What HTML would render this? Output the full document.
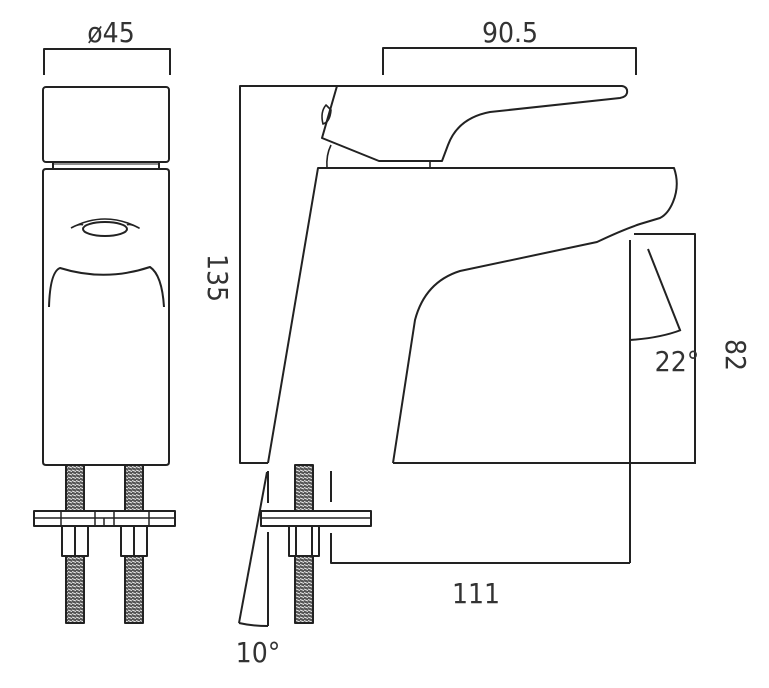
<!DOCTYPE html>
<html><head><style>
html,body{margin:0;padding:0;background:#fff;}
svg{display:block;}
text{font-family:"DejaVu Sans Condensed","Liberation Sans",sans-serif;fill:#333;font-weight:300;}
</style></head><body>
<svg width="769" height="688" viewBox="0 0 769 688" xmlns="http://www.w3.org/2000/svg">
<defs>
<pattern id="thr" width="4" height="3.5" patternUnits="userSpaceOnUse">
<rect width="4" height="3.5" fill="#555"/>
<line x1="0" y1="1" x2="4" y2="2.5" stroke="#eee" stroke-width="1"/>
</pattern>
</defs>
<g fill="none" stroke="#222" stroke-width="2" stroke-linejoin="round">
<!-- left view -->
<polyline points="44,75 44,49 170,49 170,75"/>
<rect x="43" y="87" width="126" height="75" rx="3"/>
<line x1="53" y1="162" x2="53" y2="169"/><line x1="159" y1="162" x2="159" y2="169"/>
<line x1="53" y1="164" x2="159" y2="164" stroke-width="1"/>
<path d="M43,172 Q43,169 46,169 L166,169 Q169,169 169,172 L169,462 Q169,465 166,465 L46,465 Q43,465 43,462 Z"/>
<ellipse cx="105" cy="229" rx="22" ry="7"/>
<path d="M71,228 Q105,210 139,228 Q130,223 127,225 M71,228 Q80,223 83,225" stroke-width="1.6"/>
<path d="M49,307 Q50,272 60,268 Q105,282 150,267 Q162,275 164,307"/>
<!-- left rods -->
<rect x="66" y="465" width="18" height="46" fill="url(#thr)"/>
<rect x="125" y="465" width="18" height="46" fill="url(#thr)"/>
<rect x="66" y="556" width="18" height="67" fill="url(#thr)"/>
<rect x="125" y="556" width="18" height="67" fill="url(#thr)"/>
<rect x="34" y="511" width="141" height="15" fill="#fff"/>
<line x1="34" y1="518" x2="175" y2="518" stroke-width="1.5"/>
<line x1="61" y1="511" x2="61" y2="526" stroke-width="1.5"/><line x1="149" y1="511" x2="149" y2="526" stroke-width="1.5"/>
<line x1="95" y1="511" x2="95" y2="526" stroke-width="1.5"/><line x1="104" y1="518" x2="104" y2="526" stroke-width="1.5"/><line x1="114" y1="511" x2="114" y2="526" stroke-width="1.5"/>
<rect x="62" y="526" width="26" height="30" fill="#fff"/><line x1="75" y1="526" x2="75" y2="556"/>
<rect x="121" y="526" width="26" height="30" fill="#fff"/><line x1="134" y1="526" x2="134" y2="556"/>
<!-- side view -->
<polyline points="383,75 383,48 636,48 636,75"/>
<polyline points="337,86 240,86 240,463 268,463"/>
<line x1="393" y1="463" x2="696" y2="463"/>
<path d="M337,86 L622,86 Q628,87 627,93 Q626,97 620,98 L490,112 Q458,118 448,145 L442,161 L379,161 L322,138 L337,86"/>
<path d="M326,105 Q320,112 323,124 Q330,122 331,110 Z" stroke-width="1.6"/>
<path d="M331,145 Q326,155 327,168" stroke-width="1.6"/>
<line x1="430" y1="161" x2="430" y2="168" stroke-width="1.6"/>
<path d="M268,463 L318,168 L674,168 Q680,185 673,202 Q668,214 660,218 L640,224 Q622,230 597,242 L460,271 Q425,282 415,320 L393,463"/>
<!-- 82 dim -->
<polyline points="634,234 695,234 695,463"/>
<line x1="630" y1="240" x2="630" y2="563"/>
<line x1="648" y1="249" x2="680" y2="330"/>
<path d="M630,340 Q660,338 681,330"/>
<!-- 111 dim -->
<line x1="331" y1="471" x2="331" y2="502"/>
<polyline points="331,533 331,563 630,563"/>
<!-- 10 deg -->
<line x1="268" y1="471" x2="268" y2="503"/>
<line x1="268" y1="532" x2="268" y2="626"/>
<line x1="267" y1="472" x2="239" y2="623"/>
<path d="M239,623 Q252,626 268,626"/>
<!-- side rod -->
<rect x="295" y="465" width="18" height="46" fill="url(#thr)"/>
<rect x="295" y="556" width="18" height="67" fill="url(#thr)"/>
<rect x="261" y="511" width="110" height="15" fill="#fff"/>
<line x1="261" y1="518" x2="371" y2="518" stroke-width="1.5"/>
<rect x="289" y="526" width="30" height="30" fill="#fff"/><line x1="296" y1="526" x2="296" y2="556"/><line x1="312" y1="526" x2="312" y2="556"/>
</g>
<g font-size="28">
<text x="111" y="42" text-anchor="middle">ø45</text>
<text x="510" y="42" text-anchor="middle">90.5</text>
<text x="476" y="603" text-anchor="middle">111</text>
<text x="258" y="662" text-anchor="middle">10°</text>
<text x="677" y="371" text-anchor="middle">22°</text>
<text transform="translate(208,278) rotate(90)" text-anchor="middle">135</text>
<text transform="translate(726,355) rotate(90)" text-anchor="middle">82</text>
</g>
</svg>
</body></html>
